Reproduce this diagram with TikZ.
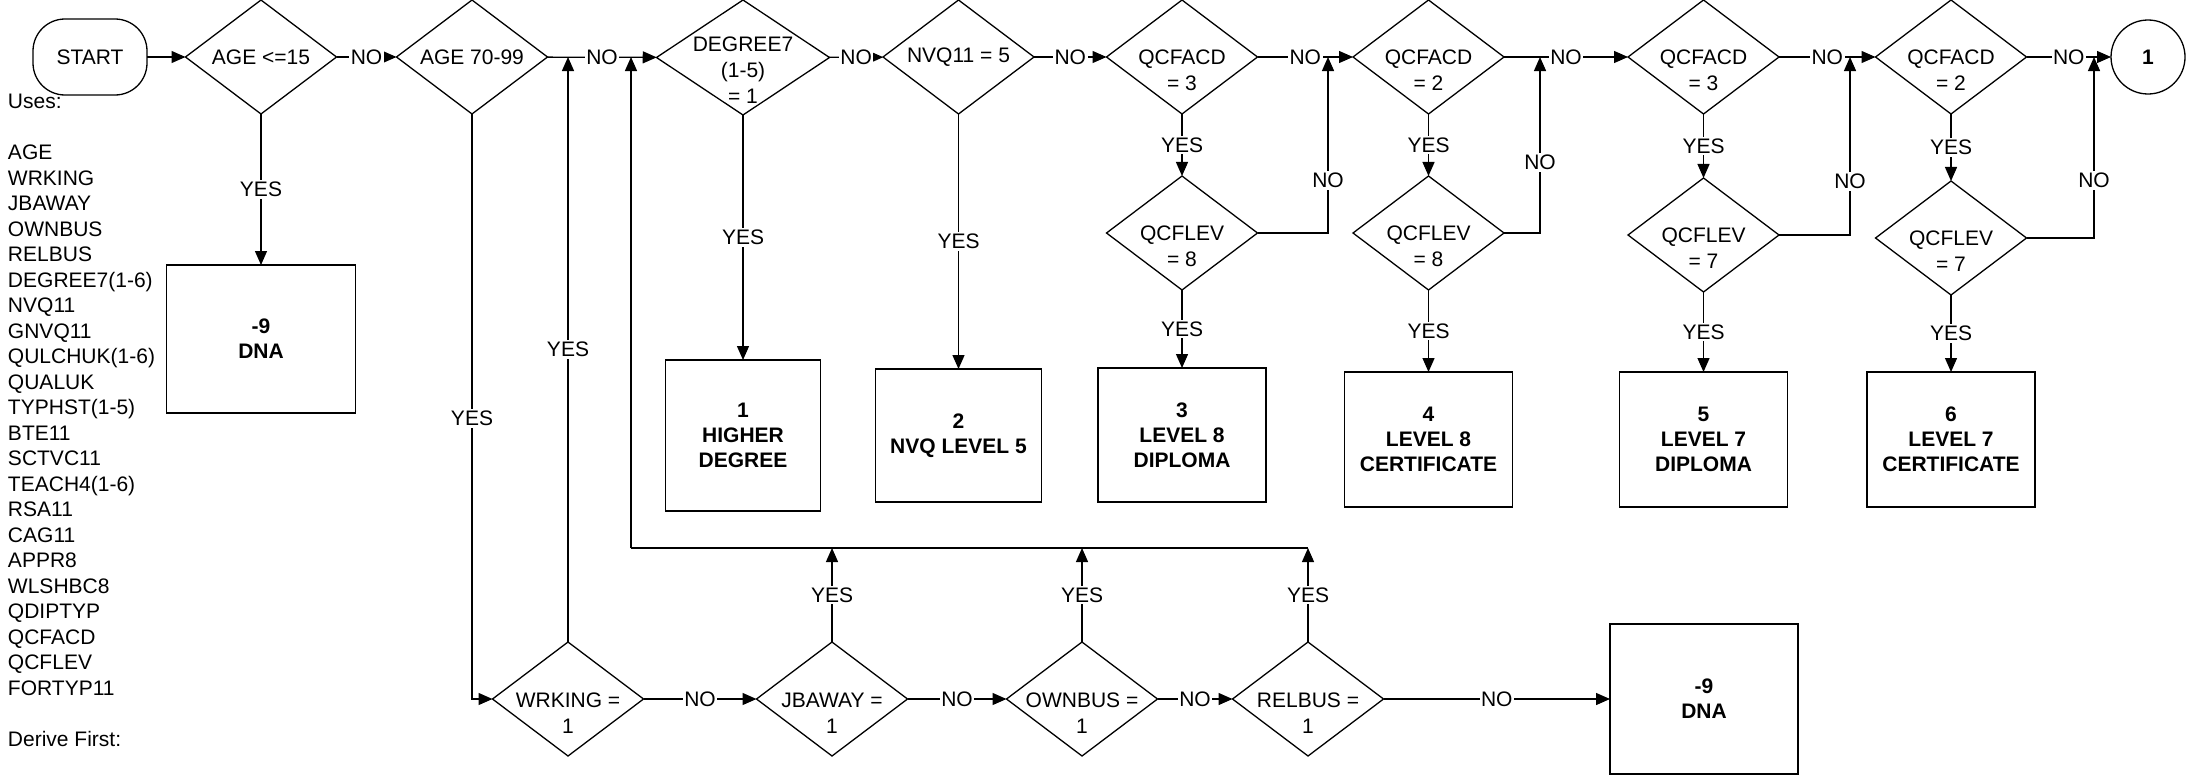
\documentclass[tikz,border=0pt]{standalone}
\usepackage{fontspec}
\setmainfont{Liberation Sans}
\usetikzlibrary{shapes.geometric,arrows.meta}
\begin{document}
\begin{tikzpicture}[x=1pt,y=-1pt,
  every node/.style={font=\fontsize{21}{26}\selectfont, inner sep=0pt, outer sep=0pt},
  ln/.style={line width=1.3pt, draw=black},
  arr/.style={ln, -{Triangle[length=14pt,width=12pt]}},
  lab/.style={fill=white, inner xsep=1.5pt, inner ysep=2pt},
  dia/.style={draw, line width=1.3pt, diamond, minimum width=151pt, minimum height=114pt},
  txt/.style={align=center},
  box/.style={draw, line width=1.3pt, rectangle, font=\fontsize{21}{25}\selectfont\bfseries, align=center},
]
\useasboundingbox (0,0) rectangle (2186,779);

% start and terminal
\node[draw, line width=1.3pt, rectangle, rounded corners=32pt, minimum width=114pt, minimum height=76pt] (start) at (90,57) {START};
\node[draw, line width=1.3pt, circle, minimum size=74pt, font=\fontsize{21}{26}\selectfont\bfseries] (c1) at (2148,57) {1};

% list of variables
\node[anchor=north west, align=left, font=\fontsize{21}{25.5}\selectfont] (uses) at (8,94.5)
 {Uses:\\[25.5pt]AGE\\WRKING\\JBAWAY\\OWNBUS\\RELBUS\\DEGREE7(1-6)\\NVQ11\\GNVQ11\\QULCHUK(1-6)\\QUALUK\\TYPHST(1-5)\\BTE11\\SCTVC11\\TEACH4(1-6)\\RSA11\\CAG11\\APPR8\\WLSHBC8\\QDIPTYP\\QCFACD\\QCFLEV\\FORTYP11\\[25.5pt]Derive First:};

% top row diamonds
\node[dia] (d1) at (261,57) {};
\node[txt] (d1t) at (261,57) {AGE <=15};
\node[dia] (d2) at (472,57) {};
\node[txt] (d2t) at (472,57) {AGE 70-99};
\node[dia, minimum width=173pt, minimum height=115pt] (d3) at (743,57.5) {};
\node[txt] (d3t) at (743,70.5) {DEGREE7\\(1-5)\\= 1};
\node[dia] (d4) at (958.5,57) {};
\node[txt] (d4t) at (958.5,57) {NVQ11 = 5};
\node[dia] (q1) at (1182,57) {};
\node[txt] (q1t) at (1182,70) {QCFACD\\= 3};
\node[dia] (q2) at (1428.5,57) {};
\node[txt] (q2t) at (1428.5,70) {QCFACD\\= 2};
\node[dia] (q3) at (1703.5,57) {};
\node[txt] (q3t) at (1703.5,70) {QCFACD\\= 3};
\node[dia] (q4) at (1951,57) {};
\node[txt] (q4t) at (1951,70) {QCFACD\\= 2};

% QCFLEV diamonds
\node[dia] (l1) at (1182,233) {};
\node[txt] (l1t) at (1182,246) {QCFLEV\\= 8};
\node[dia] (l2) at (1428.5,233) {};
\node[txt] (l2t) at (1428.5,246) {QCFLEV\\= 8};
\node[dia] (l3) at (1703.5,235) {};
\node[txt] (l3t) at (1703.5,248) {QCFLEV\\= 7};
\node[dia] (l4) at (1951,238) {};
\node[txt] (l4t) at (1951,251) {QCFLEV\\= 7};

% result boxes
\node[box, minimum width=189pt, minimum height=148pt] (b0) at (261,339) {-9\\DNA};
\node[box, minimum width=155pt, minimum height=151pt] (b1) at (743,435.5) {1\\HIGHER\\DEGREE};
\node[box, minimum width=166pt, minimum height=133pt] (b2) at (958.5,435.5) {2\\NVQ LEVEL 5};
\node[box, minimum width=168pt, minimum height=134pt] (b3) at (1182,435) {3\\LEVEL 8\\DIPLOMA};
\node[box, minimum width=168pt, minimum height=135pt] (b4) at (1428.5,439.5) {4\\LEVEL 8\\CERTIFICATE};
\node[box, minimum width=168pt, minimum height=135pt] (b5) at (1703.5,439.5) {5\\LEVEL 7\\DIPLOMA};
\node[box, minimum width=168pt, minimum height=135pt] (b6) at (1951,439.5) {6\\LEVEL 7\\CERTIFICATE};
\node[box, minimum width=188pt, minimum height=150pt] (b7) at (1704,699) {-9\\DNA};

% bottom row diamonds
\node[dia] (w1) at (568,699) {};
\node[txt] (w1t) at (568,713) {WRKING =\\1};
\node[dia] (w2) at (832,699) {};
\node[txt] (w2t) at (832,713) {JBAWAY =\\1};
\node[dia] (w3) at (1082,699) {};
\node[txt] (w3t) at (1082,713) {OWNBUS =\\1};
\node[dia] (w4) at (1308,699) {};
\node[txt] (w4t) at (1308,713) {RELBUS =\\1};

% helper coordinates
\coordinate (v1) at (1328,57);
\coordinate (v2) at (1540,57);
\coordinate (v3) at (1850,57);
\coordinate (v4) at (2094,57);
\coordinate (lowL) at (631,548);

% main row
\draw[arr] (start) -- (d1);
\draw[arr] (d1) -- node[lab]{NO} (d2);
\draw[arr] (d2) -- node[lab]{NO} (d3);
\draw[arr] (d3) -- node[lab]{NO} (d4);
\draw[arr] (d4) -- node[lab]{NO} (q1);
\draw[arr] (q1) -- node[lab]{NO} (q2);
\draw[arr] (q2) -- node[lab]{NO} (q3);
\draw[arr] (q3) -- node[lab]{NO} (q4);
\draw[arr] (q4) -- node[lab]{NO} (c1);

% yes branches downward
\draw[arr] (d1) -- node[lab]{YES} (b0);
\draw[arr] (d3) -- node[lab]{YES} (b1);
\draw[arr] (d4) -- node[lab]{YES} (b2);
\draw[arr] (q1) -- node[lab]{YES} (l1);
\draw[arr] (q2) -- node[lab]{YES} (l2);
\draw[arr] (q3) -- node[lab]{YES} (l3);
\draw[arr] (q4) -- node[lab]{YES} (l4);
\draw[arr] (l1) -- node[lab]{YES} (b3);
\draw[arr] (l2) -- node[lab]{YES} (b4);
\draw[arr] (l3) -- node[lab]{YES} (b5);
\draw[arr] (l4) -- node[lab]{YES} (b6);

% QCFLEV no branches
\draw[arr] (l1.east) -| node[lab,pos=0.65]{NO} (v1);
\draw[arr] (l2.east) -| node[lab,pos=0.70]{NO} (v2);
\draw[arr] (l3.east) -| node[lab,pos=0.65]{NO} (v3);
\draw[arr] (l4.east) -| node[lab,pos=0.66]{NO} (v4);

% age 70-99 yes branch
\draw[arr] (d2.south) |- node[lab,pos=0.26]{YES} (w1.west);
\draw[arr] (w1) -- node[lab]{YES} (w1 |- d2.east);

% bottom row
\draw[arr] (w1) -- node[lab]{NO} (w2);
\draw[arr] (w2) -- node[lab]{NO} (w3);
\draw[arr] (w3) -- node[lab]{NO} (w4);
\draw[arr] (w4) -- node[lab]{NO} (b7);
\draw[arr] (w2) -- node[lab]{YES} (w2 |- lowL);
\draw[arr] (w3) -- node[lab]{YES} (w3 |- lowL);
\draw[arr] (w4) -- node[lab]{YES} (w4 |- lowL);
\draw[ln] (w4 |- lowL) -- (lowL);
\draw[arr] (lowL) -- (lowL |- d2.east);
\end{tikzpicture}
\end{document}
